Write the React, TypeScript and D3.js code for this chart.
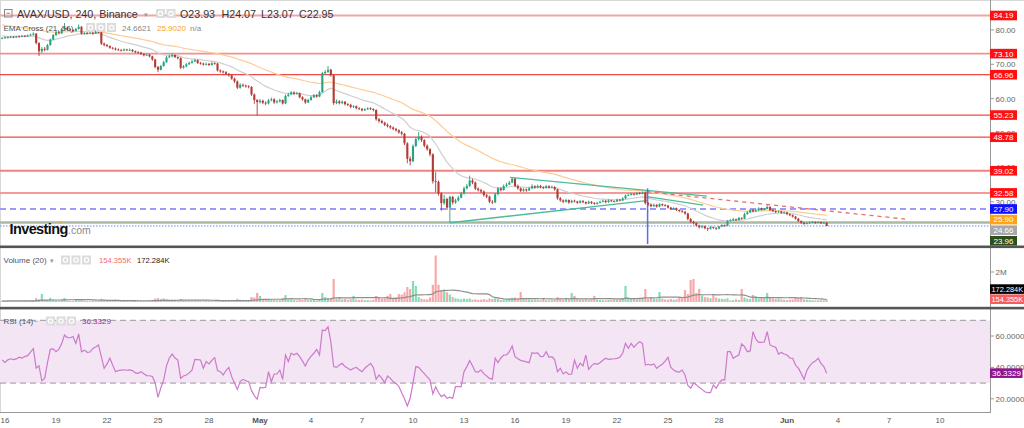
import React from "react";
import * as d3 from "d3";

// ---------- DATA ----------
const startTime = Date.UTC(2022, 3, 15, 20); // first 4h candle
const barMs = 4 * 3600 * 1000;
const firstOpen = 77.5;

const closes = [
77.6,77.9,77.7,78.0,77.8,78.1,
78.0,78.3,78.1,78.4,78.6,78.9,
76.2,73.8,74.5,74.2,75.6,77.2,
78.5,79.3,79.0,80.2,80.6,80.1,
80.0,79.7,80.3,80.9,78.9,79.1,
79.0,79.2,78.9,79.4,79.3,76.0,
75.6,75.3,74.8,74.6,74.3,74.2,
74.0,74.3,74.1,74.2,73.8,73.5,
73.4,73.0,72.6,72.8,72.3,71.4,
69.2,68.4,69.5,70.6,72.0,72.3,
72.7,72.1,71.8,69.0,69.4,70.0,
70.4,70.8,71.2,70.4,70.2,69.9,
70.1,69.8,70.3,70.2,68.2,67.9,
67.7,67.2,66.8,65.8,65.0,63.2,
64.0,63.8,63.6,63.4,61.2,59.6,
59.0,59.4,58.8,58.6,59.5,59.8,
58.9,59.2,59.6,58.6,60.8,61.2,
61.8,61.4,61.6,60.4,59.8,58.9,
59.6,60.4,61.0,60.6,61.9,67.4,
67.8,68.4,66.8,58.7,59.2,58.7,
59.1,58.4,58.2,57.6,57.8,57.2,
57.0,56.6,56.9,57.2,57.0,56.7,
54.0,53.5,53.0,52.4,52.0,51.6,
51.2,50.8,50.2,49.8,47.0,42.5,
41.8,46.2,48.2,48.9,47.9,46.3,
45.3,43.8,36.0,35.8,32.4,29.6,
30.8,28.3,31.4,29.8,30.4,31.2,
32.4,33.9,34.6,36.2,35.6,33.8,
33.4,33.0,31.9,31.5,30.0,29.8,
32.2,33.9,33.4,34.6,35.0,35.6,
36.7,34.6,33.9,33.2,33.6,33.3,
33.9,34.5,34.1,34.6,34.2,34.0,
34.5,34.1,34.3,33.6,31.0,30.4,
30.0,30.5,29.8,30.3,30.1,29.7,
30.2,29.9,29.5,30.0,29.6,29.4,
29.7,30.0,30.3,29.9,30.4,30.2,
30.1,30.6,30.4,31.0,31.8,32.0,
32.3,32.1,32.5,32.4,32.7,29.6,
29.2,28.7,29.1,28.6,29.3,29.0,
28.9,28.3,27.9,28.1,27.6,27.3,
27.1,26.6,25.0,24.2,23.8,23.1,
22.6,22.9,22.3,22.1,22.6,22.4,
22.2,22.8,23.2,23.0,24.4,24.6,
24.9,24.7,25.3,25.1,26.4,26.9,
27.6,27.2,27.5,28.1,27.7,27.9,
28.5,27.6,27.3,27.0,27.2,26.8,
26.9,26.4,26.1,25.7,25.1,24.4,
23.9,23.6,23.8,24.0,24.1,23.9,
24.1,23.8,23.93,22.95];

const highs = [
77.9,78.1,78.1,78.2,78.2,78.3,
78.4,78.5,78.5,78.7,78.9,79.3,
79.1,76.4,75.0,75.0,75.9,77.5,
78.8,79.9,79.6,80.6,82.0,80.9,
80.4,80.2,80.6,81.6,81.1,79.4,
79.4,79.5,79.4,79.9,79.8,79.5,
76.3,75.9,75.5,75.0,74.9,74.6,
74.4,74.6,74.5,74.6,74.4,74.0,
73.8,73.6,73.2,73.1,73.0,72.5,
71.6,69.5,69.8,71.0,72.4,72.8,
73.2,72.9,72.3,72.0,69.8,70.4,
70.8,71.3,71.6,71.4,70.7,70.5,
70.5,70.4,70.8,70.6,70.4,68.5,
68.2,68.0,67.5,67.0,66.1,65.3,
64.5,64.4,64.1,63.9,63.6,61.5,
59.9,59.9,59.7,59.2,59.9,60.3,
60.1,59.6,60.0,59.8,61.2,61.7,
62.2,62.1,62.0,61.8,60.7,60.0,
60.0,60.8,61.4,61.3,62.3,67.8,
68.3,69.5,68.7,67.0,59.8,59.6,
59.5,59.3,58.7,58.5,58.1,58.0,
57.5,57.3,57.2,57.5,57.5,57.2,
56.9,54.4,53.9,53.3,52.8,52.3,
51.9,51.5,51.1,50.6,50.0,47.3,
43.2,46.7,48.8,50.3,49.3,48.2,
46.7,45.6,44.1,38.6,36.2,32.8,
32.0,31.2,31.8,31.7,30.9,31.7,
32.9,34.4,35.2,37.6,36.7,35.9,
34.2,33.8,33.3,32.3,31.8,30.5,
32.6,34.3,34.2,35.0,35.5,36.1,
37.0,36.9,35.0,34.2,34.0,33.9,
34.3,35.1,34.8,35.0,34.9,34.5,
34.9,34.8,34.7,34.5,33.8,31.4,
30.7,30.9,30.7,30.6,30.6,30.3,
30.5,30.5,30.1,30.3,30.2,29.9,
30.0,30.3,30.6,30.5,30.7,30.6,
30.4,30.9,30.8,31.3,32.1,32.4,
32.6,32.5,32.8,32.8,33.0,32.9,
29.9,29.5,29.5,29.3,29.6,29.5,
29.3,29.1,28.5,28.4,28.3,27.8,
27.6,27.3,26.8,25.3,24.5,24.0,
23.3,23.2,23.1,22.5,22.9,22.8,
22.6,23.0,23.5,23.4,24.7,25.0,
25.3,25.1,25.6,25.5,26.8,27.3,
27.9,27.8,27.9,28.4,28.3,28.2,
29.0,28.7,27.8,27.5,27.5,27.4,
27.2,27.1,26.6,26.3,25.9,25.3,
24.6,24.1,24.1,24.3,24.4,24.3,
24.4,24.2,24.2,24.07];

const lows = [
77.3,77.4,77.5,77.6,77.6,77.7,
77.8,77.9,77.9,78.0,78.2,78.4,
75.8,72.4,73.2,73.8,74.0,75.4,
77.0,78.2,78.7,78.8,80.0,79.8,
79.6,79.3,79.5,80.1,78.6,78.6,
78.7,78.8,78.6,78.8,79.0,75.6,
75.2,75.0,74.5,74.3,74.0,73.9,
73.7,73.8,73.9,73.9,73.5,73.2,
73.1,72.7,72.3,72.4,72.0,71.0,
68.8,67.7,68.2,69.3,70.4,71.8,
72.0,71.8,71.4,68.6,68.7,69.1,
69.8,70.2,70.6,70.1,69.9,69.6,
69.7,69.5,69.6,69.9,67.9,67.5,
67.3,66.9,66.4,65.5,64.6,62.8,
62.9,63.4,63.2,63.0,60.8,58.5,
55.1,58.6,58.4,58.1,58.3,59.2,
58.5,58.6,58.9,58.3,58.4,60.5,
61.0,61.0,61.1,60.1,59.4,58.5,
58.7,59.4,60.2,60.3,60.4,61.7,
67.0,67.5,66.4,58.2,58.4,58.3,
58.4,58.0,57.8,57.2,57.3,56.9,
56.7,56.3,56.4,56.7,56.7,56.3,
53.6,53.0,52.7,52.0,51.6,51.2,
50.8,50.4,49.8,49.3,46.5,41.2,
40.6,41.5,45.9,47.8,47.4,45.8,
44.8,43.2,35.3,32.7,31.8,27.4,
29.1,27.6,23.96,29.2,29.4,30.1,
31.0,32.1,33.6,34.3,35.1,33.4,
33.0,32.5,31.5,31.0,29.6,29.3,
29.6,31.9,33.0,33.2,34.3,34.8,
35.4,34.2,33.5,32.8,32.9,32.9,
33.1,33.7,33.8,33.9,33.9,33.7,
33.8,33.8,33.9,33.2,30.6,30.0,
29.6,29.8,29.4,29.6,29.8,29.4,
29.5,29.6,29.2,29.3,29.3,29.1,
29.2,29.5,29.8,29.6,29.7,29.9,
29.8,29.9,30.1,30.2,30.8,31.6,
31.8,31.8,31.9,32.1,32.2,29.2,
28.8,28.4,28.5,28.3,28.4,28.7,
28.6,28.0,27.6,27.7,27.3,27.0,
26.8,26.2,24.6,23.8,23.4,22.8,
22.2,22.3,22.0,21.5,21.9,22.1,
21.8,22.0,22.6,22.7,22.9,24.2,
24.4,24.4,24.5,24.8,25.0,26.2,
26.7,26.9,27.0,27.3,27.4,27.5,
27.8,27.3,27.0,26.7,26.8,26.5,
26.5,26.1,25.8,25.4,24.8,24.1,
23.6,23.3,23.4,23.6,23.8,23.6,
23.8,23.5,23.6,22.95];

// volume in thousands
const volumes = [
70,60,90,55,80,65,
75,60,85,70,95,110,
260,180,530,140,120,270,
150,110,90,130,270,100,
80,70,130,120,150,90,
70,60,80,75,65,210,
140,90,80,70,160,60,
55,70,60,50,80,75,
60,70,65,55,90,140,
230,260,200,240,180,110,
100,80,90,200,120,90,
70,80,95,90,65,60,
70,60,75,55,150,100,
80,90,85,110,120,210,
150,100,90,80,330,300,
600,400,200,150,170,130,
140,110,120,270,460,200,
170,120,100,150,130,180,
120,140,150,110,160,600,
330,270,260,1530,250,330,
170,200,150,190,400,170,
140,160,120,130,110,150,
400,300,230,250,400,530,
260,300,530,500,650,1000,
870,1400,1070,330,220,180,
170,300,1150,3100,1150,780,
850,650,500,330,250,210,
180,230,200,240,150,180,
140,160,190,150,230,200,
250,200,140,140,160,210,
280,300,240,670,260,180,
170,150,160,140,120,200,
130,110,120,150,330,250,
180,270,200,600,400,230,
150,140,170,130,180,400,
160,130,120,110,150,140,
170,150,190,270,1070,300,
200,250,230,240,300,870,
200,330,250,220,670,230,
170,160,200,150,180,330,
250,800,530,1470,1530,600,
870,420,330,300,250,530,
300,230,210,200,250,100,
120,180,130,870,300,220,
200,470,400,240,300,250,
600,280,230,200,230,180,
150,130,160,170,330,300,
330,180,150,140,120,100,
110,120,100,154.355];

const rsiValues = [
44.7,43.2,44.8,45.5,45.0,45.4,
46.5,45.9,46.9,47.5,49.8,52.0,
39.6,41.0,31.5,33.0,43.0,51.5,
51.8,50.0,51.5,55.0,60.6,59.0,
58.9,59.6,55.3,61.3,50.0,51.0,
49.6,49.8,52.1,53.0,54.3,46.8,
39.4,42.2,45.8,41.5,37.3,38.0,
38.3,38.5,38.2,38.4,38.0,36.5,
36.2,37.3,36.0,34.8,34.7,34.2,
30.3,20.9,27.0,32.0,41.0,46.0,
48.5,46.0,44.7,33.0,34.5,35.2,
36.5,38.3,45.1,44.9,44.7,39.4,
43.7,42.2,44.5,46.2,38.0,37.3,
35.2,38.0,40.0,34.1,30.0,26.0,
31.0,32.4,31.5,30.9,25.2,22.0,
19.7,27.3,27.0,27.3,37.3,30.9,
35.8,35.8,38.3,32.4,47.9,43.7,
49.0,48.0,49.0,46.8,44.0,40.9,
44.7,47.0,49.0,51.5,47.9,63.8,
63.5,65.9,56.4,40.5,40.0,41.5,
42.6,40.5,39.5,38.3,39.5,40.0,
38.5,37.3,39.5,41.0,42.6,40.0,
32.4,35.2,33.0,30.3,34.5,33.0,
31.0,29.8,28.0,23.9,20.0,15.4,
20.3,30.0,40.5,40.0,37.9,36.0,
34.0,32.0,23.1,27.7,24.0,21.4,
22.5,20.3,21.0,20.3,27.7,27.7,
27.7,37.3,40.5,44.3,41.0,37.3,
37.0,38.3,36.0,34.5,33.0,32.5,
45.8,43.0,46.0,47.9,47.9,50.0,
53.6,46.8,45.5,44.5,44.0,43.5,
43.0,49.4,49.0,49.2,46.8,47.0,
50.0,46.4,46.8,45.0,37.3,39.4,
35.8,37.0,35.5,35.8,44.7,39.4,
42.6,40.9,47.9,38.8,41.0,42.6,
42.0,43.0,44.5,45.8,45.1,45.3,
45.5,45.8,46.5,49.0,55.3,52.1,
55.3,52.8,55.0,56.4,55.3,41.5,
42.0,41.5,42.2,39.4,40.9,42.0,
44.0,46.4,40.0,38.3,37.3,37.0,
38.3,35.2,28.5,26.7,30.0,29.0,
27.3,26.0,24.5,23.9,23.9,28.8,
26.7,30.0,32.0,32.0,50.0,50.0,
45.8,47.0,47.9,54.9,53.2,50.0,
50.5,62.8,58.0,56.0,56.0,56.2,
62.8,54.3,53.5,52.8,48.5,49.5,
48.5,47.9,46.0,45.8,41.5,39.5,
36.2,32.4,38.0,41.0,43.0,44.0,
45.8,42.6,40.5,36.33];

// EMA seeds (values before the first visible bar)
const ema21Seed = 78.3;
const ema56Seed = 81.6;

// horizontal resistance/support levels
const levelPrices = [84.19, 73.10, 66.96, 55.23, 48.78, 39.02, 32.58];
const dashedLevel = 27.90;
const baseLevel = 23.96;
const lastPrice = 22.95;

// trend lines: [bar index, price]
const triangleUpper = [[179.3, 37.11], [248.7, 31.67]];
const triangleLower = [[158.1, 23.90], [227.5, 30.31]];
const triangleExt = [[227.5, 31.52], [247.4, 29.05]];
const redTrend = [[227.5, 32.92], [318.7, 24.97]];
const blueVertical = { index: 227.8, top: 33.9, bottom: 17.7 };

const priceTicks = [80, 70, 60, 50, 40, 30];
const rsiTicks = [60, 40, 20];
const volTicks = [2000];

const tickDates = [
  [2022, 3, 16], [2022, 3, 19], [2022, 3, 22], [2022, 3, 25], [2022, 3, 28],
  [2022, 4, 1], [2022, 4, 4], [2022, 4, 7], [2022, 4, 10], [2022, 4, 13],
  [2022, 4, 16], [2022, 4, 19], [2022, 4, 22], [2022, 4, 25], [2022, 4, 28],
  [2022, 5, 1], [2022, 5, 4], [2022, 5, 7], [2022, 5, 10]];
const tickLabels = ["16", "19", "22", "25", "28", "May", "4", "7", "10", "13",
  "16", "19", "22", "25", "28", "Jun", "4", "7", "10"];

// right-axis labels
const axisLabelValues = [84.19, 73.10, 66.96, 55.23, 48.78, 39.02, 32.58, 27.90, 25.90, 24.66, 23.96];
const axisLabelTexts = ["84.19", "73.10", "66.96", "55.23", "48.78", "39.02", "32.58", "27.90", "25.90", "24.66", "23.96"];

// ---------- STYLE ----------
const FONT = "Arial, 'Liberation Sans', Helvetica, sans-serif";
const AXIS_X = 990;
const levelColors = ["#f6a3a3", "#f49090", "#ee4a4a", "#ee4a4a", "#ee4a4a", "#f38080", "#f59a9a"];
const levelWidths = [2, 1.6, 1.3, 1.3, 1.3, 1.8, 2];
const axisLabelFills = ["#ff1010", "#ff1010", "#ff1010", "#ff1010", "#ff1010", "#ff1010", "#ff1010", "#1010ff", "#ffa31a", "#a8a8a8", "#2f4f1a"];
const UP = "#27a37e";
const DOWN = "#b23b34";
const SMALL = 8;

function IconBoxes({ x, y, count }: { x: number; y: number; count: number }) {
  return (
    <g>
      {d3.range(count).map((k) => (
        <g key={k}>
          <rect x={x + k * 10.5} y={y - 4.5} width={9} height={9} fill="#dcdcdc" />
          <circle cx={x + k * 10.5 + 4.5} cy={y} r={2.2} fill="none" stroke="#fff" strokeWidth={1.2} />
        </g>
      ))}
    </g>
  );
}

export default function App() {
  const n = closes.length;
  const t = (i: number) => new Date(startTime + i * barMs);
  const x = d3.scaleUtc()
    .domain([new Date(Date.UTC(2022, 3, 16)), new Date(Date.UTC(2022, 4, 16))])
    .range([5, 515]);
  const xi = (i: number) => x(t(i));
  const yP = d3.scaleLinear().domain([84.19, 22.95]).range([15.5, 226]);
  const yV = d3.scaleLinear().domain([0, 2000]).range([302, 272]);
  const yR = d3.scaleLinear().domain([60, 20]).range([336, 398.8]);

  const opens = closes.map((c, i) => (i === 0 ? firstOpen : closes[i - 1]));
  const emaCalc = (period: number, seed: number) => {
    const a = 2 / (period + 1);
    let e = seed;
    return closes.map((c) => (e = e + a * (c - e)));
  };
  const ema21 = emaCalc(21, ema21Seed);
  const ema56 = emaCalc(56, ema56Seed);
  const volMa = volumes.map((v, i) => d3.mean(volumes.slice(Math.max(0, i - 19), i + 1)) as number);

  const idx = d3.range(n);
  const priceLine = (arr: number[]) =>
    d3.line<number>().x((i) => xi(i)).y((i) => yP(arr[i]))(idx) || "";
  const volLine = d3.line<number>().x((i) => xi(i)).y((i) => yV(volMa[i]))(idx) || "";
  const rsiLine = d3.line<number>().x((i) => xi(i)).y((i) => yR(rsiValues[i]))(idx) || "";
  const seg = (pts: number[][]) =>
    d3.line<number[]>().x((p) => xi(p[0])).y((p) => yP(p[1]))(pts) || "";

  // stack axis labels to avoid overlap
  const labelYs: number[] = [];
  axisLabelValues.forEach((v, k) => {
    const raw = yP(v);
    labelYs.push(k === 0 ? raw : Math.max(raw, labelYs[k - 1] + 10.6));
  });

  const bodyW = 2.1;

  return (
    <div style={{ position: "absolute", left: 0, top: 0, width: 1024, height: 428, background: "#fff" }}>
      <svg width={1024} height={428} style={{ display: "block", fontFamily: FONT }}>
        <defs>
          <clipPath id="mainClip"><rect x={0} y={0} width={AXIS_X} height={246} /></clipPath>
          <clipPath id="volClip"><rect x={0} y={249} width={AXIS_X} height={58} /></clipPath>
          <clipPath id="rsiClip"><rect x={0} y={311} width={AXIS_X} height={101} /></clipPath>
        </defs>
        <rect x={0} y={0} width={1024} height={428} fill="#fff" />
        <line x1={0} x2={1024} y1={0.5} y2={0.5} stroke="#d8d8d8" />
        <line x1={0.5} x2={0.5} y1={0} y2={412} stroke="#d8d8d8" />

        {/* ===== MAIN PANEL ===== */}
        <g clipPath="url(#mainClip)">
          {levelPrices.map((p, k) => (
            <line key={k} x1={0} x2={AXIS_X} y1={yP(p)} y2={yP(p)} stroke={levelColors[k]} strokeWidth={levelWidths[k]} />
          ))}
          <line x1={0} x2={AXIS_X} y1={yP(dashedLevel)} y2={yP(dashedLevel)} stroke="#9a9aff" strokeWidth={2} strokeDasharray="6,4" />
          <line x1={0} x2={AXIS_X} y1={yP(baseLevel)} y2={yP(baseLevel)} stroke="#aab9a2" strokeWidth={2.4} />
          <line x1={0} x2={AXIS_X} y1={yP(lastPrice)} y2={yP(lastPrice)} stroke="#6a86ff" strokeWidth={1} strokeDasharray="1.5,1.5" />

          <path d={priceLine(ema56)} fill="none" stroke="#ffcb96" strokeWidth={1.2} />
          <path d={priceLine(ema21)} fill="none" stroke="#cfcfcf" strokeWidth={1.2} />

          <path d={seg(triangleUpper)} stroke="#4dbb9c" strokeWidth={1.3} fill="none" />
          <path d={seg(triangleLower)} stroke="#4dbb9c" strokeWidth={1.3} fill="none" />
          <path d={seg(triangleExt)} stroke="#4dbb9c" strokeWidth={1.3} fill="none" />
          <path d={seg(redTrend)} stroke="#f06a6a" strokeWidth={1.3} fill="none" strokeDasharray="4,4" />
          <line x1={xi(blueVertical.index)} x2={xi(blueVertical.index)} y1={yP(blueVertical.top)} y2={yP(blueVertical.bottom)} stroke="#5a6fe0" strokeWidth={1.5} />

          {idx.map((i) => {
            const up = closes[i] >= opens[i];
            const col = up ? UP : DOWN;
            const cx = xi(i);
            const top = yP(Math.max(opens[i], closes[i]));
            const bot = yP(Math.min(opens[i], closes[i]));
            return (
              <g key={i}>
                <line x1={cx} x2={cx} y1={yP(highs[i])} y2={yP(lows[i])} stroke={col} strokeWidth={0.9} />
                <rect x={cx - bodyW / 2} y={top} width={bodyW} height={Math.max(0.8, bot - top)} fill={col} />
              </g>
            );
          })}
        </g>

        {/* main header */}
        <rect x={4.5} y={9.5} width={7.5} height={7.5} fill="none" stroke="#888" strokeWidth={1} />
        <line x1={6.5} x2={10} y1={13.25} y2={13.25} stroke="#888" />
        <text x={17} y={18} fontSize={10.7} fill="#333">AVAX/USD, 240, Binance</text>
        <text x={144} y={17} fontSize={7} fill="#999">▾</text>
        <IconBoxes x={156} y={13.5} count={2} />
        <text x={180} y={18} fontSize={10.7} fill="#333">O23.93</text>
        <text x={221.5} y={18} fontSize={10.7} fill="#333">H24.07</text>
        <text x={261} y={18} fontSize={10.7} fill="#333">L23.07</text>
        <text x={299} y={18} fontSize={10.7} fill="#333">C22.95</text>
        <text x={3.5} y={30.5} fontSize={SMALL} fill="#555">EMA Cross (21, 56)</text>
        <IconBoxes x={86} y={27.5} count={3} />
        <text x={122} y={30.5} fontSize={SMALL} fill="#888">24.6621</text>
        <text x={157} y={30.5} fontSize={SMALL} fill="#f5a623">25.9020</text>
        <text x={190} y={30.5} fontSize={SMALL} fill="#888">n/a</text>

        {/* Investing.com logo */}
        <text x={9.5} y={234} fontSize={14.5} fontWeight="bold" fill="#111" letterSpacing={-0.6}>Investing</text>
        <text x={68} y={234} fontSize={10.5} fill="#888">.com</text>
        <circle cx={60.5} cy={222.3} r={1.2} fill="#f5a623" />

        {/* price axis */}
        <line x1={AXIS_X + 0.5} x2={AXIS_X + 0.5} y1={0} y2={412} stroke="#999" />
        {priceTicks.map((p) => (
          <g key={p}>
            <line x1={AXIS_X} x2={AXIS_X + 4} y1={yP(p)} y2={yP(p)} stroke="#999" />
            <text x={AXIS_X + 5.5} y={yP(p) + 2.9} fontSize={SMALL} fill="#666">{p.toFixed(2)}</text>
          </g>
        ))}
        {axisLabelValues.map((v, k) => (
          <g key={k}>
            <rect x={AXIS_X} y={labelYs[k] - 4.8} width={27} height={9.6} fill={axisLabelFills[k]} />
            <text x={AXIS_X + 13.5} y={labelYs[k] + 2.9} fontSize={SMALL} fill="#fff" textAnchor="middle">{axisLabelTexts[k]}</text>
          </g>
        ))}

        {/* separators */}
        <rect x={0} y={245.5} width={1024} height={2.6} fill="#555" />
        <rect x={0} y={306.8} width={1024} height={2.6} fill="#555" />

        {/* ===== VOLUME PANEL ===== */}
        <g clipPath="url(#volClip)">
          {idx.map((i) => {
            const up = closes[i] >= opens[i];
            const cx = xi(i);
            return (
              <rect key={i} x={cx - 1.1} y={yV(volumes[i])} width={2.2} height={yV(0) - yV(volumes[i])}
                fill={up ? "#86dcb6" : "#f6a9a9"} />
            );
          })}
          <path d={volLine} fill="none" stroke="#8f8f8f" strokeWidth={1.2} />
        </g>
        <text x={3.5} y={263} fontSize={SMALL} fill="#555">Volume (20)</text>
        <text x={49.5} y={262.5} fontSize={6.5} fill="#999">▾</text>
        <IconBoxes x={61} y={260} count={3} />
        <text x={99} y={263} fontSize={7.6} fill="#f26c6c">154.355K</text>
        <text x={137} y={263} fontSize={7.6} fill="#222">172.284K</text>
        {volTicks.map((v) => (
          <g key={v}>
            <line x1={AXIS_X} x2={AXIS_X + 4} y1={yV(v)} y2={yV(v)} stroke="#999" />
            <text x={AXIS_X + 5.5} y={yV(v) + 2.9} fontSize={SMALL} fill="#666">{v / 1000}M</text>
          </g>
        ))}
        <rect x={AXIS_X} y={284.3} width={34} height={9.6} fill="#000" />
        <text x={AXIS_X + 1.5} y={291.9} fontSize={7.4} fill="#fff">172.284K</text>
        <rect x={AXIS_X} y={294.4} width={34} height={9.6} fill="#f25f5f" />
        <text x={AXIS_X + 1.5} y={302} fontSize={7.4} fill="#fff">154.355K</text>

        {/* ===== RSI PANEL ===== */}
        <g clipPath="url(#rsiClip)">
          <rect x={0} y={yR(70)} width={AXIS_X} height={yR(30) - yR(70)} fill="#f3e5f3" />
          <line x1={0} x2={AXIS_X} y1={yR(70)} y2={yR(70)} stroke="#999" strokeDasharray="6,4" />
          <line x1={0} x2={AXIS_X} y1={yR(30)} y2={yR(30)} stroke="#999" strokeDasharray="6,4" />
          <path d={rsiLine} fill="none" stroke="#cc7acc" strokeWidth={1.2} />
        </g>
        <text x={3.5} y={324} fontSize={SMALL} fill="#555">RSI (14)</text>
        <text x={33.5} y={324} fontSize={SMALL} fill="#999">~</text>
        <IconBoxes x={46} y={321} count={3} />
        <text x={82} y={324} fontSize={SMALL} fill="#a51fa5">36.3329</text>
        {rsiTicks.map((v) => (
          <g key={v}>
            <line x1={AXIS_X} x2={AXIS_X + 4} y1={yR(v)} y2={yR(v)} stroke="#999" />
            <text x={AXIS_X + 5.5} y={yR(v) + 2.9} fontSize={SMALL} fill="#666">{v.toFixed(4)}</text>
          </g>
        ))}
        <rect x={AXIS_X} y={yR(36.3329) - 4.8} width={32.5} height={9.6} fill="#8e168e" />
        <text x={AXIS_X + 2} y={yR(36.3329) + 2.9} fontSize={SMALL} fill="#fff">36.3329</text>
        <line x1={0} x2={AXIS_X + 1} y1={412.5} y2={412.5} stroke="#999" />

        {/* time axis */}
        {tickDates.map((d, k) => {
          const px = x(new Date(Date.UTC(d[0], d[1], d[2])));
          const bold = tickLabels[k] === "May" || tickLabels[k] === "Jun";
          return (
            <text key={k} x={px} y={423} fontSize={SMALL} fill="#555" textAnchor="middle" fontWeight={bold ? "bold" : "normal"}>
              {tickLabels[k]}
            </text>
          );
        })}
      </svg>
    </div>
  );
}
